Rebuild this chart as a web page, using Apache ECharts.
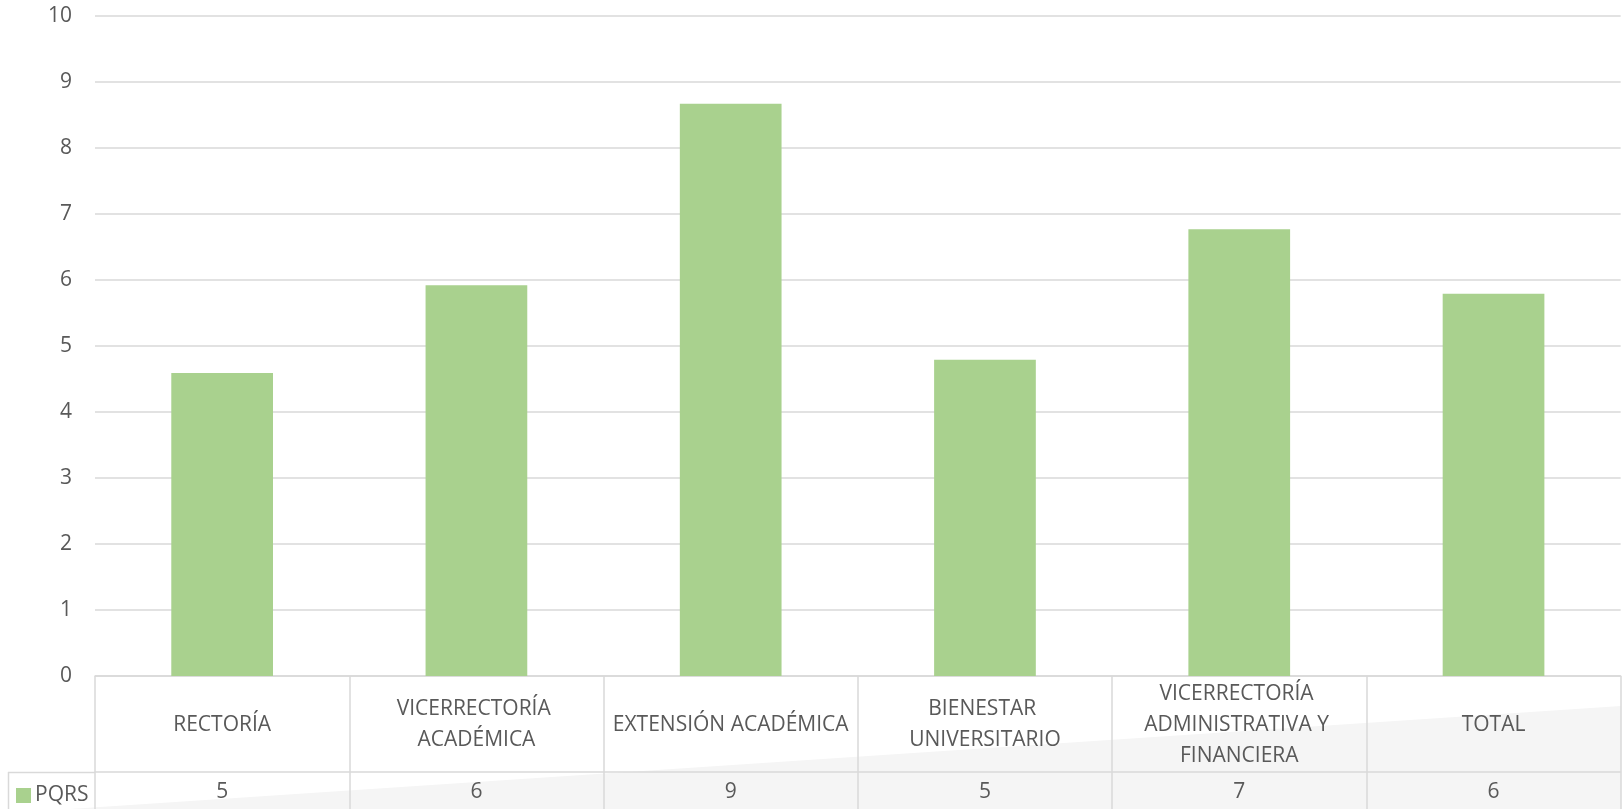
<!DOCTYPE html>
<html>
<head>
<meta charset="utf-8">
<script src="https://cdn.jsdelivr.net/npm/echarts@6/dist/echarts.min.js"></script>
<style>
html,body{margin:0;padding:0;background:#fff;}
#chart{width:1623px;height:809px;}
</style>
</head>
<body>
<div id="chart"></div>
<script>
var categories = ['RECTORÍA', 'VICERRECTORÍA ACADÉMICA', 'EXTENSIÓN ACADÉMICA', 'BIENESTAR UNIVERSITARIO', 'VICERRECTORÍA ADMINISTRATIVA Y FINANCIERA', 'TOTAL'];
var seriesName = 'PQRS';
var values = [4.59, 5.92, 8.67, 4.79, 6.77, 5.79];
var yTicks = [0, 1, 2, 3, 4, 5, 6, 7, 8, 9, 10];

var textColor = '#595959';
var lineColor = '#d9d9d9';
var font = '"Open Sans", sans-serif';

var chart = echarts.init(document.getElementById('chart'), null, {renderer: 'canvas'});
chart.setOption({
  animation: false,
  backgroundColor: '#fff',
  textStyle: {fontFamily: font},
  grid: {left: 95, right: 2, top: 16, bottom: 133, containLabel: false},
  legend: {
    data: [seriesName],
    left: 11, top: 780,
    icon: 'rect', itemWidth: 15, itemHeight: 15, itemGap: 0,
    textStyle: {color: textColor, fontSize: 21, fontFamily: font, padding: [0, 0, 0, -1]}
  },
  graphic: [
    {type: 'polygon', z: -10, silent: true,
     shape: {points: [[70, 809], [1621, 706], [1621, 809]]},
     style: {fill: '#f5f5f5'}},
    {type: 'line', z: 5, silent: true, shape: {x1: 8, y1: 772.5, x2: 95, y2: 772.5}, style: {stroke: lineColor, lineWidth: 1.5}},
    {type: 'line', z: 5, silent: true, shape: {x1: 8.5, y1: 772, x2: 8.5, y2: 809}, style: {stroke: lineColor, lineWidth: 1.5}}
  ],
  xAxis: [
    {
      type: 'category', data: categories, position: 'bottom',
      axisLine: {show: true, lineStyle: {color: lineColor, width: 1.5}},
      axisTick: {show: true, length: 133, lineStyle: {color: lineColor, width: 1.5}},
      axisLabel: {
        color: textColor, fontSize: 21, fontFamily: font, interval: 0,
        margin: 49, verticalAlign: 'middle', lineHeight: 31,
        width: 253, overflow: 'break', align: 'center'
      },
      splitLine: {show: false}
    },
    {
      type: 'category', data: categories, position: 'bottom', offset: 96,
      axisLine: {show: true, lineStyle: {color: lineColor, width: 1.5}},
      axisTick: {show: false},
      axisLabel: {
        color: textColor, fontSize: 21, fontFamily: font, interval: 0,
        margin: 20, verticalAlign: 'middle',
        formatter: function (v, i) { return String(Math.round(values[i])); }
      }
    }
  ],
  yAxis: {
    type: 'value', min: yTicks[0], max: yTicks[yTicks.length - 1], interval: 1,
    axisLine: {show: false}, axisTick: {show: false},
    axisLabel: {color: textColor, fontSize: 21, fontFamily: font, margin: 23},
    splitLine: {lineStyle: {color: lineColor, width: 1.5}}
  },
  series: [{
    name: seriesName, type: 'bar', data: values, xAxisIndex: 0,
    barCategoryGap: '60%',
    itemStyle: {color: '#a9d18e'}
  }]
});
</script>
</body>
</html>
